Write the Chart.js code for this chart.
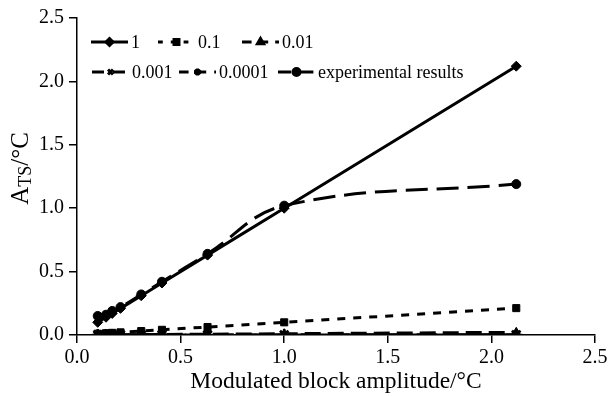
<!DOCTYPE html>
<html>
<head>
<meta charset="utf-8">
<script src="https://cdn.jsdelivr.net/npm/chart.js@4/dist/chart.umd.min.js"></script>
<style>
  html, body { margin: 0; padding: 0; background: #fff; }
  #wrap { width: 615px; height: 396px; }
</style>
</head>
<body>
<div id="wrap"><canvas id="myChart" width="615" height="396"></canvas></div>
<script>
// block amplitudes (x) shared by the model curves
var amplitudes = [0.1, 0.14, 0.17, 0.21, 0.31, 0.41, 0.63, 1.0, 2.12];

// model curves, one per coefficient
var coef1      = [0.1, 0.14, 0.17, 0.21, 0.31, 0.41, 0.63, 1.0, 2.12];
var coef01     = [0.01, 0.014, 0.017, 0.021, 0.031, 0.041, 0.063, 0.1, 0.212];
var coef001    = [0.001, 0.0014, 0.0017, 0.0021, 0.0031, 0.0041, 0.0063, 0.01, 0.0212];
var coef0001   = [0.0001, 0.0001, 0.0002, 0.0002, 0.0003, 0.0004, 0.0006, 0.001, 0.0021];
var coef00001  = [0, 0, 0, 0, 0, 0, 0.0001, 0.0001, 0.0002];

// experimental results
var expAmplitudes = [0.1, 0.14, 0.17, 0.21, 0.31, 0.41, 0.63, 1.0, 2.12];
var expValues     = [0.15, 0.16, 0.19, 0.22, 0.32, 0.42, 0.64, 1.02, 1.19];

var seriesNames = ['1', '0.1', '0.01', '0.001', '0.0001', 'experimental results'];
var axisTicks = [0, 0.5, 1.0, 1.5, 2.0, 2.5];

function pts(xs, ys) {
    return xs.map(function (x, i) { return { x: x, y: ys[i] }; });
}

var serif = "'Liberation Serif', 'DejaVu Serif', serif";

function makeSet(label, data, style, dash, radius, bw, tension) {
    return {
        label: label,
        data: data,
        showLine: true,
        borderColor: '#000',
        backgroundColor: '#000',
        borderWidth: 3,
        borderDash: dash,
        pointStyle: style,
        pointRadius: radius,
        pointBorderWidth: bw,
        pointBorderColor: '#000',
        pointBackgroundColor: '#000',
        tension: tension || 0
    };
}

var datasets = [
    makeSet(seriesNames[0], pts(amplitudes, coef1), 'rectRot', [], 5, 1),
    makeSet(seriesNames[1], pts(amplitudes, coef01), 'rect', [8, 8], 5, 1),
    makeSet(seriesNames[2], pts(amplitudes, coef001), 'triangle', [16, 7], 5, 1),
    makeSet(seriesNames[3], pts(amplitudes, coef0001), 'crossRot', [20, 9], 5, 2.5),
    makeSet(seriesNames[4], pts(amplitudes, coef00001), 'star', [16, 8], 6, 2.5),
    makeSet(seriesNames[5], pts(expAmplitudes, expValues), 'circle', [22, 9], 4.5, 1, 0.4)
];

// draws the two-row legend inside the plot and the subscripted y title
var extras = {
    id: 'extras',
    afterDatasetsDraw: function (chart) {
        var ctx = chart.ctx;
        var rows = [
            { y: 42, starts: [91, 158, 242] },
            { y: 72, starts: [92, 179, 278] }
        ];
        var sampleW = 37;
        ctx.save();
        ctx.font = '18px ' + serif;
        ctx.textBaseline = 'middle';
        ctx.fillStyle = '#000';
        for (var i = 0; i < chart.data.datasets.length; i++) {
            var ds = chart.data.datasets[i];
            var row = rows[Math.floor(i / 3)];
            var x0 = row.starts[i % 3];
            var y = row.y;
            ctx.strokeStyle = '#000';
            ctx.lineWidth = 3;
            ctx.setLineDash(ds.borderDash.length ? [ds.borderDash[0] * 0.6, ds.borderDash[1]] : []);
            ctx.beginPath();
            ctx.moveTo(x0, y);
            ctx.lineTo(x0 + sampleW, y);
            ctx.stroke();
            ctx.setLineDash([]);
            Chart.helpers.drawPoint(ctx, {
                pointStyle: ds.pointStyle, radius: 3.5,
                borderWidth: ds.pointBorderWidth > 1 ? 2 : 1, rotation: 0
            }, x0 + sampleW / 2, y);
            ctx.fillText(ds.label, x0 + sampleW + 3, y + 1);
        }

        // y axis title: A_TS/°C
        ctx.translate(21, (chart.chartArea.top + chart.chartArea.bottom) / 2 - 8);
        ctx.rotate(-Math.PI / 2);
        ctx.textBaseline = 'alphabetic';
        var big = '25px ' + serif, small = '18px ' + serif;
        ctx.font = big;
        var wA = ctx.measureText('A').width;
        var wC = ctx.measureText('/\u00b0C').width;
        ctx.font = small;
        var wT = ctx.measureText('TS').width;
        var total = wA + wT + wC;
        var x = -total / 2;
        ctx.font = big;
        ctx.fillText('A', x, 7);
        ctx.font = small;
        ctx.fillText('TS', x + wA, 10);
        ctx.font = big;
        ctx.fillText('/\u00b0C', x + wA + wT, 7);
        ctx.restore();
    }
};

var tickFmt = function (v) { return Number(v).toFixed(1); };

var ctx = document.getElementById('myChart').getContext('2d');
var chart = new Chart(ctx, {
    type: 'scatter',
    data: { datasets: datasets },
    plugins: [extras],
    options: {
        responsive: false,
        animation: false,
        layout: { padding: { top: 18, right: 20, left: 0, bottom: 0 } },
        plugins: {
            legend: { display: false },
            tooltip: { enabled: false }
        },
        scales: {
            x: {
                type: 'linear',
                min: 0, max: 2.5,
                afterBuildTicks: function (s) { s.ticks = axisTicks.map(function (v) { return { value: v }; }); },
                afterFit: function (s) { s.height = 61; },
                border: { color: '#000', width: 1.5 },
                grid: { display: true, drawOnChartArea: false, drawTicks: true, tickLength: 8, color: '#000', lineWidth: 1.5 },
                ticks: { color: '#000', font: { family: serif, size: 20 }, padding: 3, callback: tickFmt, maxRotation: 0 },
                title: { display: true, text: 'Modulated block amplitude/\u00b0C', color: '#000', font: { family: serif, size: 23.5 }, padding: { top: 0, bottom: 0 } }
            },
            y: {
                type: 'linear',
                min: 0, max: 2.5,
                afterBuildTicks: function (s) { s.ticks = axisTicks.map(function (v) { return { value: v }; }); },
                afterFit: function (s) { s.width = 77; },
                border: { color: '#000', width: 1.5 },
                grid: { display: true, drawOnChartArea: false, drawTicks: true, tickLength: 8, color: '#000', lineWidth: 1.5 },
                ticks: { color: '#000', font: { family: serif, size: 20 }, padding: 5, callback: tickFmt }
            }
        }
    }
});
</script>
</body>
</html>
